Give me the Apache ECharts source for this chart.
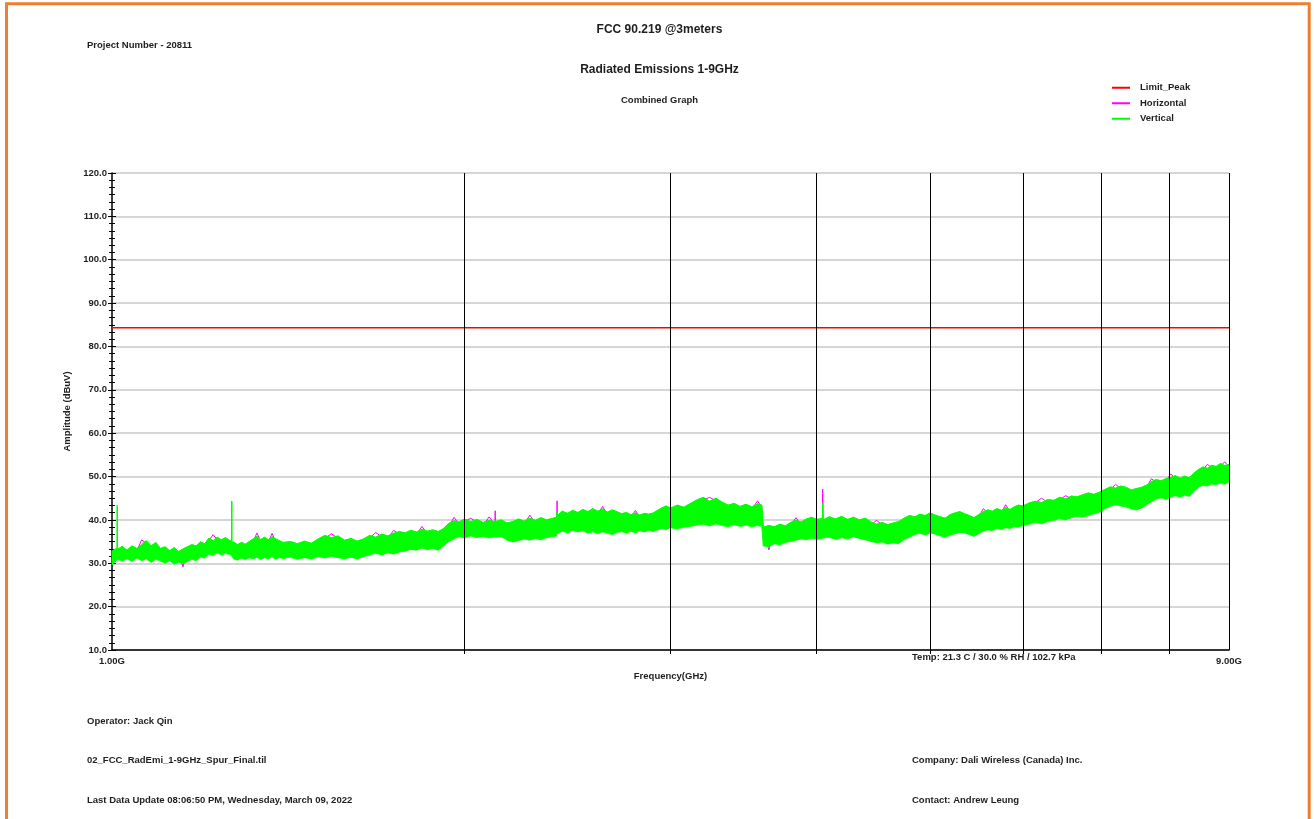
<!DOCTYPE html>
<html><head><meta charset="utf-8">
<script src="https://cdn.jsdelivr.net/npm/echarts@6/dist/echarts.min.js"></script>
<style>html,body{margin:0;padding:0;background:#fff}#c{width:1314px;height:819px}</style>
</head><body><div id="c"></div>
<script>
// Frequency sweep points (GHz)
const freqGHz = [
 1.00,1.01,1.0105,1.011,1.02,1.03,1.04,1.05,1.06,1.07,1.08,1.09,1.10,1.11,1.12,1.13,1.14,1.15,1.16,1.17,
 1.18,1.19,1.20,1.21,1.22,1.23,1.24,1.25,1.26,1.265,1.2655,1.266,1.27,1.28,1.29,1.30,1.31,1.32,1.33,1.34,
 1.35,1.36,1.37,1.38,1.39,1.40,
 1.42,1.44,1.46,1.48,1.50,1.52,1.54,1.56,1.58,1.60,1.62,1.64,1.66,1.68,1.70,1.72,1.74,1.76,1.78,1.80,
 1.82,1.84,1.86,1.88,1.90,1.92,1.94,1.96,1.98,2.00,
 2.025,2.05,2.075,2.10,2.124,2.125,2.126,2.15,2.175,2.20,2.225,2.25,2.275,2.30,2.325,2.35,2.375,2.399,2.40,2.401,
 2.425,2.45,2.475,2.50,2.525,2.55,2.575,2.60,2.625,2.65,2.675,2.70,2.725,2.75,2.775,2.80,2.825,2.85,2.875,2.90,
 2.925,2.95,2.975,3.00,
 3.04,3.08,3.12,3.16,3.20,3.24,3.28,3.32,3.36,3.40,3.44,3.48,3.52,3.56,3.59,3.60,3.64,3.68,3.72,3.76,
 3.80,3.84,3.88,3.92,3.96,4.00,
 4.045,4.047,4.05,4.10,4.15,4.20,4.25,4.30,4.35,4.40,4.45,4.50,4.55,4.60,4.65,4.70,4.75,4.80,4.85,4.90,
 4.95,5.00,5.05,5.10,5.15,5.20,5.25,5.30,5.35,5.40,5.45,5.50,5.55,5.60,5.65,5.70,5.75,5.80,5.85,5.90,
 5.95,6.00,
 6.075,6.15,6.225,6.30,6.375,6.45,6.525,6.60,6.675,6.75,6.825,6.90,6.975,7.05,7.125,7.20,7.275,7.35,7.425,7.50,
 7.575,7.65,7.725,7.80,7.875,7.95,8.025,8.10,8.175,8.25,8.325,8.40,8.475,8.55,8.625,8.70,8.775,8.85,8.925,9.00
];
// Vertical polarisation: lower and upper edge of the trace (dBuV)
const vertLow = [
 29.6,30.8,31.0,30.9,30.5,31.0,30.4,31.2,30.6,31.0,30.2,30.9,30.5,30.0,30.6,29.8,30.2,29.9,30.4,30.9,
 30.6,31.4,31.2,32.1,31.8,32.4,31.9,32.3,32.0,31.8,32.0,31.7,31.0,30.7,31.2,30.8,31.3,31.0,31.4,30.8,
 31.3,31.0,31.5,30.9,31.3,31.1,
 31.4,30.9,31.3,31.0,31.5,31.2,31.6,31.3,31.0,31.4,31.0,31.5,31.9,32.3,31.9,32.4,32.1,32.6,32.8,33.2,
 33.0,33.5,33.1,33.4,33.0,34.0,35.0,35.6,36.2,35.8,
 36.3,35.9,36.2,35.8,36.1,36.0,36.0,36.2,35.3,34.9,35.2,35.6,35.3,35.7,35.4,35.9,36.1,36.3,37.0,36.8,
 37.4,37.0,37.6,37.2,37.5,36.9,37.3,36.8,37.2,37.0,36.6,37.1,37.3,36.9,37.4,37.0,37.5,37.2,37.6,37.3,
 37.7,38.0,37.8,38.2,
 37.9,38.3,38.5,38.8,39.0,38.6,39.1,38.7,38.4,38.9,38.5,38.8,38.4,38.7,38.5,34.0,33.8,34.5,34.2,34.8,
 35.0,35.3,35.6,35.4,35.8,35.5,
 35.7,36.0,35.8,36.0,35.5,35.9,35.6,36.1,35.7,35.4,35.0,34.7,34.9,34.4,34.7,34.5,35.5,36.0,36.6,36.9,
 36.5,37.0,36.7,36.3,36.0,36.5,36.8,37.1,37.0,36.6,36.2,36.8,37.4,37.7,37.5,38.0,37.8,38.2,38.0,38.4,
 38.3,38.7,
 39.0,39.4,39.1,39.6,39.9,40.3,40.0,40.5,40.8,40.6,41.0,41.4,41.7,42.6,43.1,43.5,43.2,43.0,42.5,42.3,
 42.7,43.4,44.2,44.8,45.1,44.7,45.3,45.6,45.2,45.7,45.4,46.6,47.5,48.0,47.8,48.3,48.1,48.5,48.2,48.8
];
const vertHigh = [
 32.8,33.5,43.3,33.2,33.9,33.0,34.0,33.4,34.3,35.2,34.0,34.8,33.4,33.8,32.9,33.6,32.7,33.3,33.8,34.3,
 34.0,34.9,34.5,35.8,35.2,36.0,35.4,35.9,35.3,35.0,44.3,34.8,34.9,34.3,34.8,34.4,35.0,35.6,36.2,35.5,
 36.0,35.4,36.1,35.6,35.2,34.8,
 35.0,34.5,35.1,34.6,35.6,36.4,35.9,36.3,35.3,35.7,35.1,35.6,36.4,36.0,36.7,36.3,36.9,37.3,37.0,37.6,
 37.2,37.8,37.4,37.7,37.3,38.0,39.2,39.8,39.5,40.2,
 39.6,40.1,39.4,39.9,39.5,39.9,39.6,40.0,39.3,39.6,40.2,39.7,40.4,39.9,40.5,40.0,40.3,40.6,41.8,41.0,
 42.0,41.5,42.2,41.7,42.4,41.9,42.6,42.0,42.5,41.8,42.3,41.9,41.4,41.7,41.2,41.6,41.1,41.5,41.3,41.6,
 42.2,42.8,43.2,42.7,
 43.4,42.9,43.8,44.6,45.2,44.3,45.0,44.1,43.4,43.8,43.1,43.6,43.0,43.7,43.4,38.3,38.7,38.4,39.0,38.6,
 39.4,39.9,39.5,40.2,40.6,40.1,
 40.3,43.9,40.0,40.7,40.2,40.8,40.1,40.6,40.0,40.4,39.5,39.0,39.4,38.9,39.3,39.6,40.4,41.0,40.7,41.3,
 41.0,41.6,41.1,40.7,40.4,41.2,41.6,41.9,41.4,41.0,40.5,41.2,41.9,42.3,42.0,42.6,42.2,42.8,42.4,43.0,
 43.4,43.2,
 43.9,44.3,44.0,44.7,44.5,45.2,44.8,45.5,45.3,45.8,46.2,45.9,46.4,47.0,47.6,47.3,47.8,47.5,46.9,47.2,
 47.5,48.0,48.8,49.3,49.0,49.5,49.8,50.2,49.6,50.1,49.7,50.8,51.6,52.2,51.9,52.6,52.3,53.0,52.5,52.8
];
// Horizontal polarisation: peak trace (dBuV)
const horizPeak = [
 32.2,32.9,33.0,32.6,33.3,32.4,33.4,32.8,35.4,34.6,33.4,34.2,32.8,33.2,32.3,33.0,32.1,29.2,33.2,33.7,
 33.4,34.3,33.9,35.2,36.6,35.4,34.8,35.3,34.7,34.4,34.9,34.2,34.3,33.7,34.2,33.8,34.4,35.0,37.0,34.9,
 35.4,34.8,36.9,35.0,34.6,34.2,
 34.4,33.9,34.5,34.0,35.0,35.8,36.8,35.7,34.7,35.1,34.5,35.0,35.8,37.1,36.1,35.7,37.6,36.7,36.4,37.0,
 36.6,38.5,36.8,37.1,36.7,37.4,38.6,40.6,38.9,39.6,
 40.4,39.5,38.8,40.7,38.9,42.1,39.0,39.4,38.7,39.0,39.6,39.1,41.1,39.3,39.9,39.4,39.7,40.0,44.4,40.4,
 41.4,40.9,41.6,41.1,41.8,41.3,42.0,41.4,43.1,41.2,41.7,41.3,40.8,41.1,40.6,42.2,40.5,40.9,40.7,41.0,
 41.6,42.2,42.6,42.1,
 42.8,42.3,43.2,44.0,44.6,45.2,44.4,43.5,42.8,43.2,42.5,43.0,42.4,44.4,42.8,37.7,33.1,37.8,38.4,38.0,
 38.8,40.5,38.9,39.6,40.0,39.5,
 39.7,47.1,39.4,40.1,39.6,40.2,39.5,40.0,39.4,39.8,38.9,39.9,38.8,38.3,38.7,39.0,39.8,40.4,40.1,40.7,
 40.4,41.0,40.5,40.1,39.8,40.6,41.0,41.3,40.8,40.4,39.9,40.6,42.6,41.7,41.4,42.0,41.6,43.5,41.8,42.4,
 42.8,42.6,
 43.3,44.0,45.0,44.1,43.9,44.6,45.6,44.9,44.7,45.2,45.6,45.3,45.8,46.4,47.0,48.2,47.2,46.9,46.3,46.6,
 46.9,47.4,49.5,48.7,48.4,48.9,50.6,49.6,49.0,49.5,49.1,50.2,51.0,51.6,52.8,52.0,51.7,52.4,53.4,52.2
];
const limitFreq = [1, 9];
const limitPeak = [84.3, 84.3];
const gridFreq = [2, 3, 4, 5, 6, 7, 8, 9];
const xTickFreq = [2, 3, 4, 5, 6, 7, 8];

const FONT = '"Liberation Sans", Arial, Helvetica, sans-serif';
const TXT = '#1e1e1e';
const chart = echarts.init(document.getElementById('c'), null, {renderer: 'canvas'});

const vertData = freqGHz.map((f, i) => [f, vertLow[i], vertHigh[i]]);
const horizData = freqGHz.map((f, i) => [f, horizPeak[i]]);
const limitData = limitFreq.map((f, i) => [f, limitPeak[i]]);

// Draw the Vertical trace as one filled band (low edge -> high edge) through the axis scales.
function renderBand(params, api) {
  if (params.dataIndexInside !== 0) return null;
  const n = params.dataInsideLength;
  const top = [], bottom = [];
  for (let j = 0; j < n; j++) {
    const f = api.value(0, j);
    top.push(api.coord([f, api.value(2, j)]));
    bottom.push(api.coord([f, api.value(1, j)]));
  }
  const pts = top.concat(bottom.slice().reverse());
  return {
    type: 'group',
    children: [
      {type: 'polygon', shape: {points: pts}, style: {fill: '#00ff00', stroke: '#00ff00', lineWidth: 0.8}},
      {type: 'polyline', shape: {points: top}, style: {fill: null, stroke: '#00ff00', lineWidth: 1}}
    ]
  };
}

function label(text, x, y, size, align) {
  return {type: 'text', x: x, y: y, silent: true,
    style: {text: text, fontFamily: FONT, fontWeight: 'bold', fontSize: size, fill: TXT,
      align: align || 'left', verticalAlign: 'middle'}};
}

const yCommon = {type: 'value', min: 10, max: 120, interval: 10, position: 'left'};

chart.setOption({
  animation: false,
  backgroundColor: '#ffffff',
  grid: {left: 112, right: 85, top: 173, bottom: 169, containLabel: false},
  legend: {
    data: ['Limit_Peak', 'Horizontal', 'Vertical'],
    orient: 'vertical', left: 1112, top: 82, padding: 0, icon: 'rect', itemWidth: 18, itemHeight: 2, itemGap: 4,
    selectedMode: false,
    textStyle: {fontFamily: FONT, fontWeight: 'bold', fontSize: 9.5, color: TXT, padding: [0, 0, 0, 5], lineHeight: 11.5}
  },
  xAxis: {
    type: 'log', logBase: 10, min: 1, max: 9,
    name: 'Frequency(GHz)', nameLocation: 'middle', nameGap: 21,
    nameTextStyle: {fontFamily: FONT, fontWeight: 'bold', fontSize: 9.5, color: TXT},
    axisLine: {show: true, onZero: false, lineStyle: {color: '#000', width: 1.5}},
    axisTick: {show: true, length: 4, customValues: xTickFreq, lineStyle: {color: '#000', width: 1}},
    minorTick: {show: false},
    splitLine: {show: false},
    minorSplitLine: {show: false},
    axisLabel: {show: true, showMinLabel: true, showMaxLabel: true, margin: 6,
      fontFamily: FONT, fontWeight: 'bold', fontSize: 9.5, color: TXT,
      formatter: function (v) { return v.toFixed(2) + 'G'; }}
  },
  yAxis: [
    Object.assign({}, yCommon, {
      name: 'Amplitude (dBuV)', nameLocation: 'middle', nameGap: 38,
      nameTextStyle: {fontFamily: FONT, fontWeight: 'bold', fontSize: 9.5, color: TXT},
      axisLine: {show: true, onZero: false, lineStyle: {color: '#000', width: 1.5}},
      axisTick: {show: true, length: 4, lineStyle: {color: '#000', width: 1}},
      minorTick: {show: true, splitNumber: 6, length: 3, lineStyle: {color: '#000', width: 1}},
      splitLine: {show: true, lineStyle: {color: '#c8c8c8', width: 1.5}},
      axisLabel: {margin: 5, fontFamily: FONT, fontWeight: 'bold', fontSize: 9.5, color: TXT,
        formatter: function (v) { return v.toFixed(1); }}
    }),
    Object.assign({}, yCommon, {
      offset: 0,
      axisLine: {show: false},
      axisTick: {show: true, inside: true, length: 4, lineStyle: {color: '#000', width: 1}},
      minorTick: {show: true, splitNumber: 6, length: 3, lineStyle: {color: '#000', width: 1}},
      splitLine: {show: false},
      axisLabel: {show: false}
    })
  ],
  series: [
    {
      name: 'Horizontal', type: 'line', data: horizData, symbol: 'none', silent: true, z: 2,
      color: '#ff00ff', lineStyle: {color: '#ff00ff', width: 1}
    },
    {
      name: 'Vertical', type: 'custom', data: vertData, silent: true, z: 3,
      color: '#00ff00', itemStyle: {color: '#00ff00'},
      encode: {x: 0, y: [1, 2]},
      renderItem: renderBand
    },
    {
      name: 'Limit_Peak', type: 'line', data: limitData, symbol: 'none', silent: true, z: 4,
      color: '#ff0000', lineStyle: {color: '#ff0000', width: 1.5},
      markLine: {
        silent: true, symbol: ['none', 'none'], label: {show: false},
        lineStyle: {color: '#000', width: 1, type: 'solid'},
        emphasis: {disabled: true},
        data: gridFreq.map(function (v) { return {xAxis: v}; })
      }
    }
  ],
  graphic: [
    {type: 'rect', silent: true, z: 100, shape: {x: 6.5, y: 3.8, width: 1302.7, height: 900},
      style: {fill: 'none', stroke: '#ee7f30', lineWidth: 3}},
    label('FCC 90.219 @3meters', 659.5, 30, 12, 'center'),
    label('Project Number - 20811', 87, 45, 9.5),
    label('Radiated Emissions 1-9GHz', 659.5, 70, 12, 'center'),
    label('Combined Graph', 659.5, 100, 9.5, 'center'),
    label('Temp: 21.3 C / 30.0 % RH / 102.7 kPa', 912, 657.5, 9.5),
    label('Operator: Jack Qin', 87, 721, 9.5),
    label('02_FCC_RadEmi_1-9GHz_Spur_Final.til', 87, 760, 9.5),
    label('Last Data Update 08:06:50 PM, Wednesday, March 09, 2022', 87, 800, 9.5),
    label('Company: Dali Wireless (Canada) Inc.', 912, 760, 9.5),
    label('Contact: Andrew Leung', 912, 800, 9.5)
  ]
});
</script>
</body></html>
